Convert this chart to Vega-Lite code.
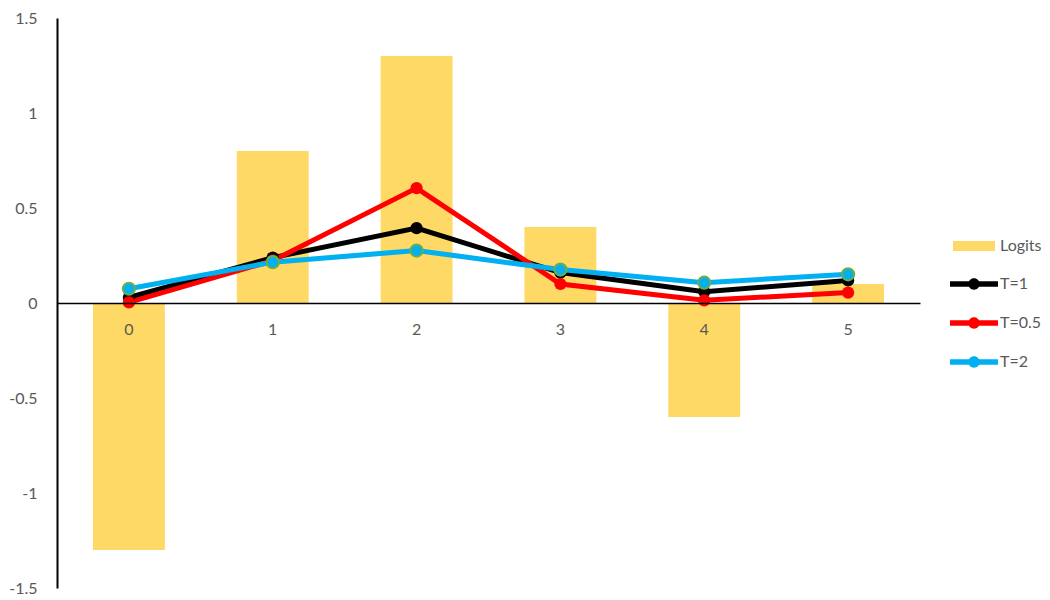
{
  "$schema": "https://vega.github.io/schema/vega-lite/v6.json",
  "width": 863,
  "height": 570,
  "autosize": "none",
  "padding": {"left": 57, "top": 18, "right": 130, "bottom": 12},
  "background": "white",
  "config": {"view": {"stroke": null}, "font": "Lato"},
  "datasets": {
    "logits": [
      {"cat": 0, "series": "Logits", "value": -1.3},
      {"cat": 1, "series": "Logits", "value": 0.8},
      {"cat": 2, "series": "Logits", "value": 1.3},
      {"cat": 3, "series": "Logits", "value": 0.4},
      {"cat": 4, "series": "Logits", "value": -0.6},
      {"cat": 5, "series": "Logits", "value": 0.1}
    ],
    "probs": [
      {"cat": 0, "series": "T=1", "value": 0.029},
      {"cat": 1, "series": "T=1", "value": 0.239},
      {"cat": 2, "series": "T=1", "value": 0.394},
      {"cat": 3, "series": "T=1", "value": 0.160},
      {"cat": 4, "series": "T=1", "value": 0.059},
      {"cat": 5, "series": "T=1", "value": 0.119},
      {"cat": 0, "series": "T=0.5", "value": 0.003},
      {"cat": 1, "series": "T=0.5", "value": 0.223},
      {"cat": 2, "series": "T=0.5", "value": 0.605},
      {"cat": 3, "series": "T=0.5", "value": 0.100},
      {"cat": 4, "series": "T=0.5", "value": 0.014},
      {"cat": 5, "series": "T=0.5", "value": 0.055},
      {"cat": 0, "series": "T=2", "value": 0.075},
      {"cat": 1, "series": "T=2", "value": 0.215},
      {"cat": 2, "series": "T=2", "value": 0.276},
      {"cat": 3, "series": "T=2", "value": 0.176},
      {"cat": 4, "series": "T=2", "value": 0.107},
      {"cat": 5, "series": "T=2", "value": 0.151}
    ]
  },
  "encoding": {
    "x": {
      "field": "cat",
      "type": "ordinal",
      "scale": {"paddingInner": 0.5, "paddingOuter": 0.25},
      "axis": {
        "title": null,
        "labelAngle": 0,
        "offset": -285,
        "ticks": false,
        "zindex": 1,
        "domainColor": "#000000",
        "domainWidth": 1.5,
        "labelColor": "#595959",
        "labelFontSize": 16,
        "labelPadding": 18,
        "grid": false
      }
    },
    "y": {
      "field": "value",
      "type": "quantitative",
      "scale": {"domain": [-1.5, 1.5], "nice": false, "zero": false},
      "axis": {
        "title": null,
        "values": [-1.5, -1, -0.5, 0, 0.5, 1, 1.5],
        "labelExpr": "'' + datum.value",
        "ticks": false,
        "grid": false,
        "zindex": 1,
        "domainColor": "#000000",
        "domainWidth": 2,
        "labelColor": "#595959",
        "labelFontSize": 16,
        "labelPadding": 20
      }
    }
  },
  "layer": [
    {
      "data": {"name": "logits"},
      "mark": {"type": "bar", "opacity": 1},
      "encoding": {
        "fill": {
          "field": "series",
          "type": "nominal",
          "scale": {"domain": ["Logits"], "range": ["#FFD966"]},
          "legend": {
            "orient": "none",
            "legendX": 902,
            "legendY": 213,
            "title": null,
            "symbolType": "M-1.4,-0.33H1.4V0.33H-1.4Z",
            "symbolSize": 900,
            "symbolStrokeWidth": 0,
            "symbolOpacity": 1,
            "labelOffset": 11,
            "labelFontSize": 16,
            "labelColor": "#595959",
            "labelFont": "Lato"
          }
        }
      }
    },
    {
      "data": {"name": "probs"},
      "mark": {"type": "line", "strokeWidth": 5, "opacity": 1},
      "encoding": {
        "color": {
          "field": "series",
          "type": "nominal",
          "scale": {"domain": ["T=1", "T=0.5", "T=2"], "range": ["#000000", "#FF0000", "#00B0F0"]},
          "legend": {
            "orient": "none",
            "legendX": 902,
            "legendY": 251,
            "title": null,
            "symbolType": "M-1.6,-0.18H-0.3V0.18H-1.6Z M0.3,-0.18H1.6V0.18H0.3Z M0.38,0A0.38,0.38 0 1 1 -0.38,0A0.38,0.38 0 1 1 0.38,0Z",
            "symbolSize": 900,
            "symbolStrokeWidth": 0,
            "symbolOpacity": 1,
            "rowPadding": 16,
            "labelOffset": 11,
            "labelFontSize": 16,
            "labelColor": "#595959",
            "labelFont": "Lato"
          }
        }
      }
    },
    {
      "data": {"name": "probs"},
      "mark": {"type": "point", "filled": true, "size": 150, "opacity": 1, "strokeWidth": 2},
      "encoding": {
        "color": {
          "field": "series",
          "type": "nominal",
          "scale": {"domain": ["T=1", "T=0.5", "T=2"], "range": ["#000000", "#FF0000", "#00B0F0"]},
          "legend": {
            "orient": "none",
            "legendX": 902,
            "legendY": 251,
            "title": null,
            "symbolType": "M-1.6,-0.18H-0.3V0.18H-1.6Z M0.3,-0.18H1.6V0.18H0.3Z M0.38,0A0.38,0.38 0 1 1 -0.38,0A0.38,0.38 0 1 1 0.38,0Z",
            "symbolSize": 900,
            "symbolStrokeWidth": 0,
            "symbolOpacity": 1,
            "rowPadding": 16,
            "labelOffset": 11,
            "labelFontSize": 16,
            "labelColor": "#595959",
            "labelFont": "Lato"
          }
        },
        "stroke": {
          "condition": {"test": "datum.series === 'T=2'", "value": "#70AD47"},
          "value": "transparent"
        }
      }
    }
  ]
}
